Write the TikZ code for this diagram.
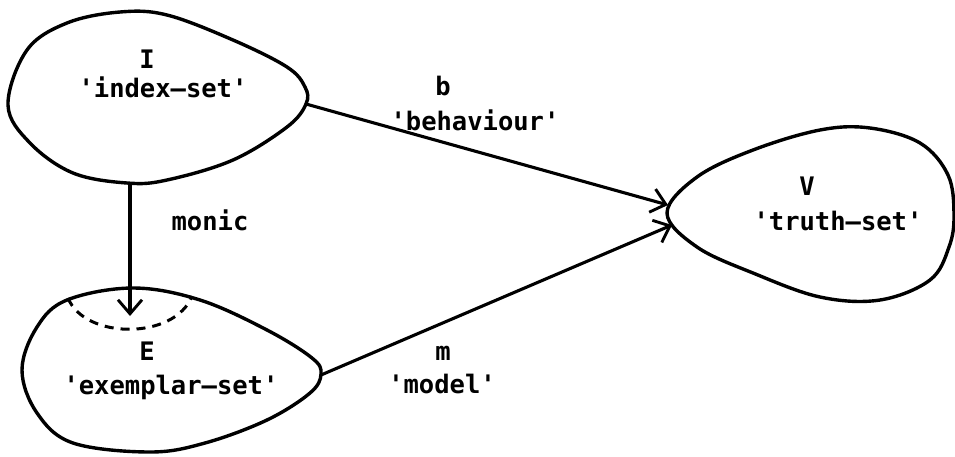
\documentclass[tikz,border=0pt]{standalone}
\usepackage{fontspec}
\newfontfamily\tw{DejaVu Sans Mono Bold}
\usetikzlibrary{arrows.meta}
\newcommand\tq{\textquotesingle}
\begin{document}
\begin{tikzpicture}[x=1pt,y=-1pt,
  setline/.style={line width=3.4pt, line join=round},
  conn/.style={line width=3.1pt, -{Straight Barb[length=14pt,width=24pt,line width=2.9pt]}},
  lbl/.style={font=\tw\fontsize{25.5}{30}\selectfont, inner sep=0pt, anchor=base}]
\useasboundingbox (0,0) rectangle (955,456);

% the three sets, drawn as egg-shaped loops
\draw[setline] plot[smooth cycle, tension=0.6] coordinates {
  (8,105) (27,50) (67,23) (120,12) (167,15) (233,40) (287,67)
  (305,87) (306,104) (287,127) (233,160) (167,180) (127,183)
  (73,173) (30,143)};
\draw[setline] plot[smooth cycle, tension=0.6] coordinates {
  (22,370) (37,327) (67,300) (133,288) (200,300) (267,330) (312,358)
  (321,374) (310,393) (267,420) (205,443) (150,452) (73,443) (37,413)};
\draw[setline] plot[smooth cycle, tension=0.6] coordinates {
  (667,213) (697,177) (753,150) (820,130) (870,128) (920,143)
  (948,175) (954,215) (949,247) (930,280) (880,300) (820,297)
  (753,273) (697,247)};

% image of the monic map inside E
\draw[line width=3pt, dash pattern=on 9pt off 7pt]
  (68,298) .. controls (85,340) and (175,340) .. (192,296);

% end points of the maps
\coordinate (Ibot) at (130,183);
\coordinate (Itip) at (306,104);
\coordinate (Etip) at (321,375);
\coordinate (Ein) at (130,316);
\coordinate (Vb) at (668,205);
\coordinate (Vm) at (672,225);

\draw[conn] (Ibot) -- (Ein);
\draw[conn] (Itip) -- (Vb);
\draw[conn] (Etip) -- (Vm);

% set names
\node[lbl] (Iname) at (147,68) {I};
\node[lbl] (Iset) at (163,97) {\tq index–set\tq};
\node[lbl] (Ename) at (147,360) {E};
\node[lbl] (Eset) at (171,394) {\tq exemplar–set\tq};
\node[lbl] (Vname) at (807,195) {V};
\node[lbl] (Vset) at (838,230) {\tq truth–set\tq};

% map names
\node[lbl] (bname) at (443,95) {b};
\node[lbl] (bset) at (475,130) {\tq behaviour\tq};
\node[lbl] (monic) at (210,230) {monic};
\node[lbl] (mname) at (443,360) {m};
\node[lbl] (mset) at (442,393) {\tq model\tq};
\end{tikzpicture}
\end{document}
